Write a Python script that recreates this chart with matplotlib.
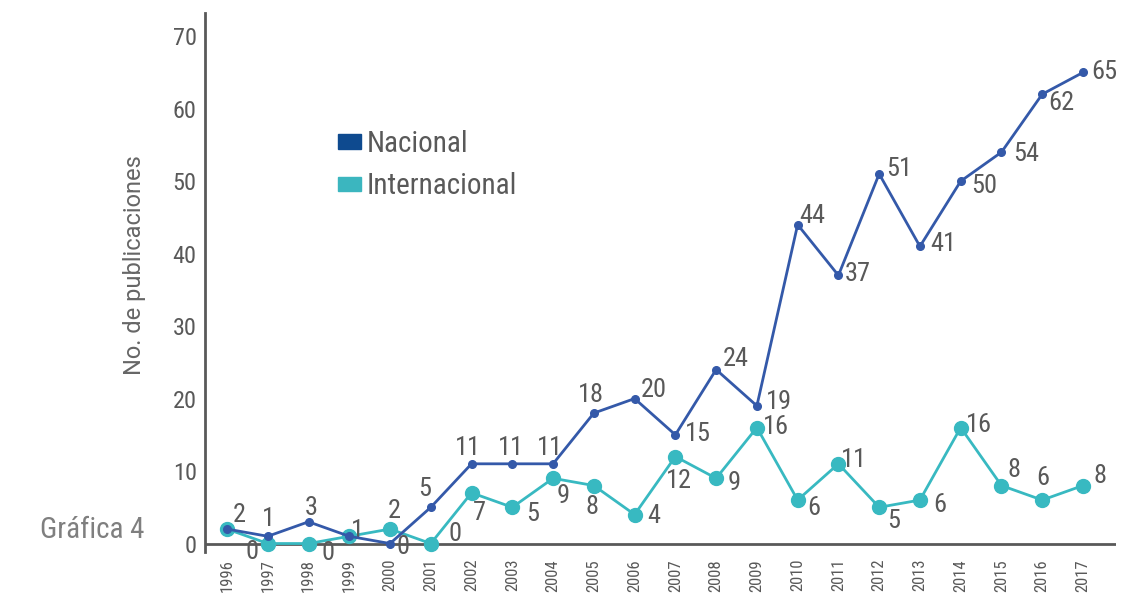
import numpy as np
import matplotlib.pyplot as plt
from matplotlib.patches import Patch

years = [str(y) for y in range(1996, 2018)]
nacional = [2, 1, 3, 1, 0, 5, 11, 11, 11, 18, 20, 15, 24, 19, 44, 37, 51, 41, 50, 54, 62, 65]
internacional = [2, 0, 0, 1, 2, 0, 7, 5, 9, 8, 4, 12, 9, 16, 6, 11, 5, 6, 16, 8, 6, 8]

# label offsets in pixels (dx, dy), None = no label (shared with the other series)
off_nac = [(12, 14), (1, 17), (3, 14), (8, 5), (13, -3), (-6, 18), (-4, 16), (-1, 16),
           (-3, 16), (-3, 18), (19, 9), (23, 1), (20, 11), (22, 4), (15, 9), (19, 1),
           (20, 5), (23, 2), (23, -5), (25, -2), (19, -9), (21, 0)]
off_int = [None, (-16, -8), (19, -9), None, (4, 18), (24, 10), (8, -20), (20, -7),
           (10, -18), (-2, -21), (19, -1), (4, -24), (18, -5), (19, 1), (16, -8),
           (16, 4), (14, -14), (20, -5), (18, 3), (13, 16), (1, 22), (17, 10)]

c_nac = '#3459a9'
c_int = '#38b9c1'
grey = '#595959'
num_font = ['Roboto Condensed', 'Liberation Sans Narrow', 'Roboto', 'DejaVu Sans']

fig = plt.figure(figsize=(11.3, 5.98), dpi=100)
ax = fig.add_axes([0.1814, 0.0769, 0.8062, 0.9013])

x = np.arange(len(years))
ax.plot(x, internacional, color=c_int, lw=2, marker='o', ms=10, zorder=3)
ax.plot(x, nacional, color=c_nac, lw=2, marker='o', ms=5.5, zorder=4)

for xi, v, o in zip(x, nacional, off_nac):
    if o is not None:
        ax.annotate(str(v), (xi, v), xytext=o, textcoords='offset pixels',
                    ha='center', va='center', fontsize=19, color=grey, family=num_font)
for xi, v, o in zip(x, internacional, off_int):
    if o is not None:
        ax.annotate(str(v), (xi, v), xytext=o, textcoords='offset pixels',
                    ha='center', va='center', fontsize=19, color=grey, family=num_font)

ax.set_xlim(-0.54, 21.81)
ax.set_ylim(-1.17, 73.2)
ax.axhline(0, color=grey, lw=2, zorder=2)

for s in ['top', 'right', 'bottom']:
    ax.spines[s].set_visible(False)
ax.spines['left'].set_color(grey)
ax.spines['left'].set_linewidth(2)

ax.set_yticks(range(0, 71, 10))
ax.set_xticks(x)
ax.set_xticklabels(years, rotation=90, fontsize=12, color=grey, family=num_font)
ax.tick_params(axis='y', length=0, pad=6, labelsize=17.5, labelcolor=grey)
ax.tick_params(axis='x', length=0, pad=5)
for t in ax.get_yticklabels():
    t.set_family(num_font)

ax.set_ylabel('No. de publicaciones', fontsize=17, color='#666666', family='Roboto')
ax.yaxis.set_label_coords(-0.065, 0.532)

handles = [Patch(color='#0e4a8f', label='Nacional'), Patch(color='#3bb6bf', label='Internacional')]
leg = ax.legend(handles=handles, loc='upper left', bbox_to_anchor=(0.117, 0.832), frameon=False,
                handlelength=0.8, handleheight=0.4, handletextpad=0.2, labelspacing=0.5,
                prop={'family': num_font, 'size': 21})
for t in leg.get_texts():
    t.set_color(grey)

fig.text(0.035, 0.113, 'Gráfica 4', fontsize=21, color='#7f7f7f', family=num_font, va='center')

fig.savefig('out.png', dpi=100)
